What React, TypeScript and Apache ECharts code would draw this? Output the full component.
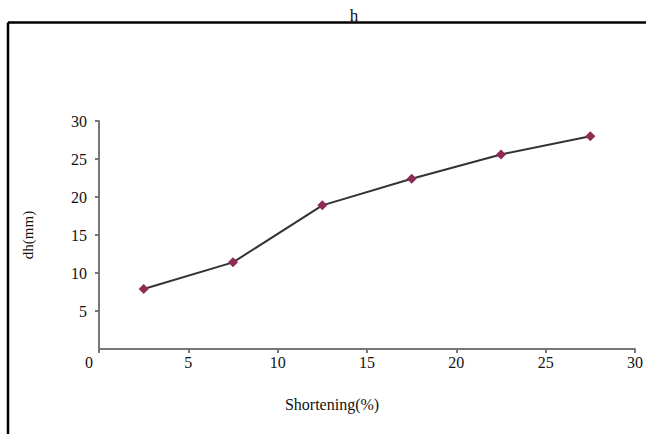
import React, { useEffect, useRef } from "react";
import * as echarts from "echarts";

const shortening = [2.5, 7.5, 12.5, 17.5, 22.5, 27.5];
const dh = [7.9, 11.4, 18.9, 22.4, 25.6, 28.0];
const xTicks = [0, 5, 10, 15, 20, 25, 30];
const yTicks = [0, 5, 10, 15, 20, 25, 30];

export default function App() {
  const ref = useRef<HTMLDivElement>(null);
  useEffect(() => {
    if (!ref.current) return;
    const chart = echarts.init(ref.current, null, { renderer: "svg" });
    const font = "'Liberation Serif', 'Times New Roman', serif";
    chart.setOption({
      animation: false,
      backgroundColor: "#ffffff",
      textStyle: { fontFamily: font },
      title: {
        text: "h",
        left: 349,
        textAlign: "center",
        top: 2,
        textStyle: { fontFamily: font, fontSize: 17, fontWeight: "normal", color: "#111" },
      },
      graphic: [
        { type: "line", shape: { x1: 8, y1: 22.5, x2: 646, y2: 22.5 }, style: { stroke: "#000", lineWidth: 2.5 }, z: 10 },
        { type: "line", shape: { x1: 8, y1: 22.5, x2: 8, y2: 434 }, style: { stroke: "#000", lineWidth: 2.5 }, z: 10 },
      ],
      grid: { left: 99, right: 10, top: 121, bottom: 85, containLabel: false },
      xAxis: {
        type: "value",
        min: xTicks[0],
        max: xTicks[xTicks.length - 1],
        interval: 5,
        name: "Shortening(%)",
        nameLocation: "middle",
        nameGap: 47,
        nameTextStyle: { fontFamily: font, fontSize: 16, color: "#111", padding: [0, 70, 0, 0] },
        axisLine: { lineStyle: { color: "#777", width: 2 } },
        axisTick: { show: true, length: 4, lineStyle: { color: "#777", width: 2 } },
        axisLabel: {
          fontFamily: font,
          fontSize: 16,
          color: "#111",
          margin: 5,
          formatter: (v: number) => (v === 0 ? "{z|0}" : xTicks.includes(v) ? String(v) : ""),
          rich: { z: { fontFamily: font, fontSize: 16, color: "#111", padding: [0, 20, 0, 0] } },
        },
        splitLine: { show: false },
      },
      yAxis: {
        type: "value",
        min: yTicks[0],
        max: yTicks[yTicks.length - 1],
        interval: 5,
        name: "dh(mm)",
        nameLocation: "middle",
        nameGap: 64,
        nameRotate: 90,
        nameTextStyle: { fontFamily: font, fontSize: 15, color: "#111" },
        axisLine: { show: true, lineStyle: { color: "#777", width: 2 } },
        axisTick: { show: true, length: 4, lineStyle: { color: "#777", width: 2 } },
        axisLabel: {
          fontFamily: font,
          fontSize: 16,
          color: "#111",
          margin: 12,
          showMinLabel: false,
        },
        splitLine: { show: false },
      },
      series: [
        {
          type: "line",
          data: shortening.map((x, i) => [x, dh[i]]),
          symbol: "diamond",
          symbolSize: 10,
          lineStyle: { color: "#333", width: 2 },
          itemStyle: { color: "#8e2a55" },
        },
      ],
    });
    return () => chart.dispose();
  }, []);
  return (
    <div
      ref={ref}
      style={{ position: "fixed", left: 0, top: 0, width: 646, height: 434 }}
    />
  );
}
